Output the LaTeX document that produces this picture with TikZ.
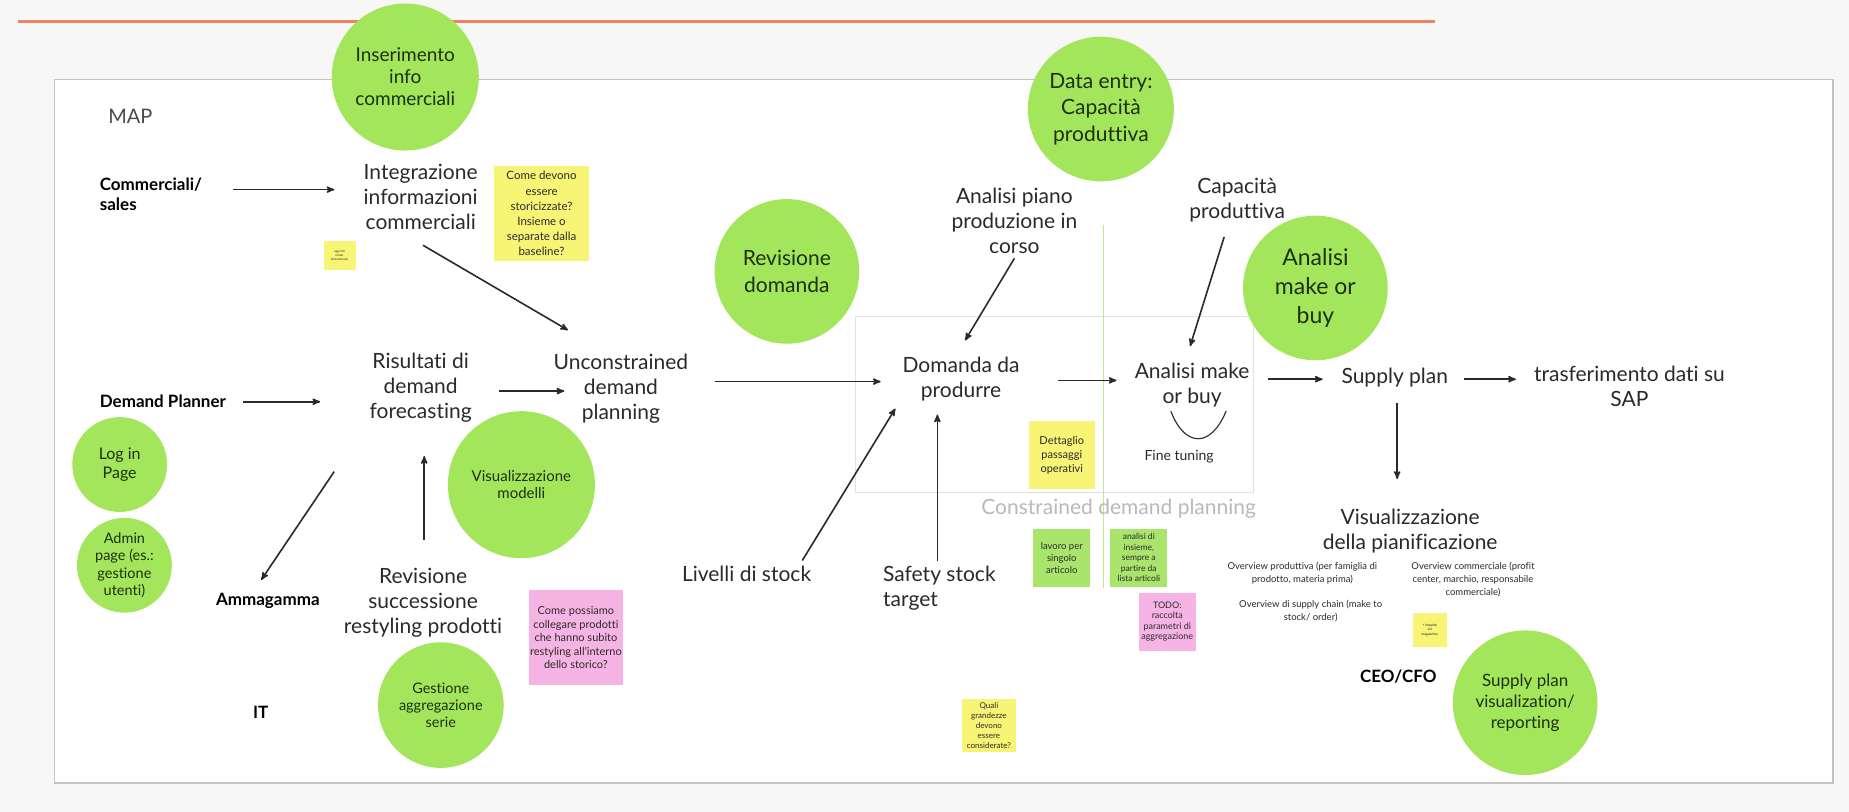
\documentclass[tikz,border=0pt]{standalone}
\usepackage{fontspec}
\setmainfont{Lato}[Ligatures={TeX,NoCommon}]
\usetikzlibrary{arrows,positioning,calc,shapes.geometric}

\definecolor{bgpage}{HTML}{F7F7F7}
\definecolor{rule}{HTML}{F08260}
\definecolor{frame}{HTML}{C4C4C4}
\definecolor{lime}{HTML}{A3E65B}
\definecolor{leaf}{HTML}{1E3010}
\definecolor{ink}{HTML}{2A2A2A}
\definecolor{postyellow}{HTML}{F8F475}
\definecolor{postpink}{HTML}{F6B4E4}
\definecolor{postgreen}{HTML}{A9E56C}
\definecolor{faint}{HTML}{B9B9B9}
\definecolor{split}{HTML}{BEEA8E}
\definecolor{pane}{HTML}{E2E2E2}

\begin{document}
\begin{tikzpicture}[->,>=stealth',shorten >=1pt,auto,x=1.185pt,y=-1.185pt,
                    semithick]
  \tikzstyle{every edge}=[draw=ink,line width=1.6pt]
  \tikzstyle{lbl}=[text=ink,align=center,inner sep=0pt,font=\fontsize{21}{25}\selectfont]
  \tikzstyle{actor}=[text=black,align=left,anchor=west,inner sep=0pt,font=\bfseries\fontsize{17}{19.5}\selectfont]
  \tikzstyle{remark}=[text=ink,align=center,inner sep=0pt,font=\fontsize{9.5}{13}\selectfont]
  \tikzstyle{bubble}=[ellipse,fill=lime,text=leaf,align=center,inner sep=0pt]
  \tikzstyle{postit}=[rectangle,fill=postyellow,text=ink,align=center,inner sep=1pt]

  \useasboundingbox (0,0) rectangle (1560.3,685.2);
  \fill[bgpage] (0,0) rectangle (1560.3,685.2);
  \draw[-,rule,line width=2.4pt] (15,18) -- (1212,18);
  \draw[-,frame,line width=1.8pt,fill=white] (46,67) rectangle (1547,661);
  \draw[-,pane,line width=1pt] (722,267) rectangle (1058,416);
  \draw[-,split,line width=1.2pt] (931,190) -- (931,497);

  \node[postit,minimum width=94.8pt,minimum height=94.8pt,font=\fontsize{11.5}{15}\selectfont]
       (storic) at (457,180) {Come devono\\essere\\storicizzate?\\Insieme o\\separate dalla\\baseline?};
  \node[postit,minimum width=32pt,minimum height=29.6pt,font=\fontsize{3}{4}\selectfont]
       (aggnote) at (286.5,215.5) {agg info\\molto\\destrutturate};
  \node[postit,fill=postpink,minimum width=94.8pt,minimum height=94.8pt,font=\fontsize{11}{13.5}\selectfont]
       (restyl) at (486,538) {Come possiamo\\collegare prodotti\\che hanno subito\\restyling all'interno\\dello storico?};
  \node[postit,minimum width=66.4pt,minimum height=68.7pt,font=\fontsize{11}{14}\selectfont]
       (dettaglio) at (896,384) {Dettaglio\\passaggi\\operativi};
  \node[postit,fill=postgreen,minimum width=56.9pt,minimum height=58pt,font=\fontsize{9.5}{12}\selectfont]
       (lavoro) at (896,470.5) {lavoro per\\singolo\\articolo};
  \node[postit,fill=postgreen,minimum width=56.9pt,minimum height=58pt,font=\fontsize{8.5}{10.6}\selectfont]
       (insieme) at (961,470.5) {analisi di\\insieme,\\sempre a\\partire da\\lista articoli};
  \node[postit,fill=postpink,minimum width=56.9pt,minimum height=58pt,font=\fontsize{9}{10.5}\selectfont]
       (todo) at (985,524.5) {TODO:\\raccolta\\parametri di\\aggregazione};
  \node[postit,minimum width=53.3pt,minimum height=53.3pt,font=\fontsize{8}{10}\selectfont]
       (quali) at (834.5,612.5) {Quali\\grandezze\\devono\\essere\\considerate?};
  \node[postit,minimum width=34.4pt,minimum height=34.4pt,font=\fontsize{3.5}{4.5}\selectfont]
       (impatto) at (1206.5,531.5) {+ impatto\\sul\\magazzino};

  \node[bubble,minimum size=147pt,font=\fontsize{19}{22}\selectfont]
       (inser) at (342,65) {Inserimento\\info\\commerciali};
  \node[bubble,minimum size=144.6pt,font=\fontsize{21}{26.5}\selectfont]
       (dataentry) at (929,92) {Data entry:\\Capacità\\produttiva};
  \node[bubble,minimum size=144.6pt,font=\fontsize{21}{27}\selectfont]
       (revdom) at (664,229) {Revisione\\domanda};
  \node[bubble,minimum size=144.6pt,font=\fontsize{23}{29}\selectfont]
       (mobcirc) at (1110,243) {Analisi\\make or\\buy};
  \node[bubble,minimum size=147pt,font=\fontsize{15}{17.5}\selectfont]
       (vismod) at (440,409) {Visualizzazione\\modelli};
  \node[bubble,minimum size=94.8pt,font=\fontsize{16}{19.5}\selectfont]
       (login) at (101,392) {Log in\\Page};
  \node[bubble,minimum size=94.8pt,font=\fontsize{14.5}{17.2}\selectfont]
       (admin) at (105,477) {Admin\\page (es.:\\gestione\\utenti)};
  \node[bubble,minimum size=125.6pt,font=\fontsize{14.5}{16.8}\selectfont]
       (gestione) at (372,595) {Gestione\\aggregazione\\serie};
  \node[bubble,minimum size=144.6pt,font=\fontsize{17}{20.7}\selectfont]
       (spviz) at (1287,593) {Supply plan\\visualization/\\reporting};

  \node[lbl,text=ink!85,font=\fontsize{20}{24}\selectfont] (map) at (110,98) {MAP};
  \node[actor]              (comm)  at (84,164)   {Commerciali/\\sales};
  \node[actor]              (dp)    at (84,339)   {Demand Planner};
  \node[actor,anchor=center] (amma) at (226,507)  {Ammagamma};
  \node[actor,anchor=center] (it)   at (220,601)  {IT};
  \node[actor,anchor=center] (ceo)  at (1180,571) {CEO/CFO};

  \node[lbl] (integ)   at (355,166)  {Integrazione\\informazioni\\commerciali};
  \node[lbl] (ris)     at (355,327)  {Risultati di\\demand\\forecasting};
  \node[lbl] (uncon)   at (524,328)  {Unconstrained\\demand\\planning};
  \node[lbl] (revsucc) at (357,509)  {Revisione\\successione\\restyling prodotti};
  \node[lbl] (piano)   at (856,186)  {Analisi piano\\produzione in\\corso};
  \node[lbl] (domanda) at (811,320)  {Domanda da\\produrre};
  \node[lbl] (capprod) at (1044,169) {Capacità\\produttiva};
  \node[lbl] (makebuy) at (1006,325) {Analisi make\\or buy};
  \node[lbl] (supply)  at (1177,319) {Supply plan};
  \node[lbl] (sap)     at (1375,326) {trasferimento dati su\\SAP};
  \node[lbl] (visplan) at (1190,448) {Visualizzazione\\della pianificazione};
  \node[lbl] (livelli) at (630,484)  {Livelli di stock};
  \node[lbl,align=left,anchor=west] (safety) at (745,496) {Safety stock\\target};
  \node[lbl,text=faint] (constr) at (944,429) {Constrained demand planning};
  \node[lbl,font=\fontsize{14}{17}\selectfont] (fine) at (995,385) {Fine tuning};

  \node[remark] (ovprod) at (1099,484) {Overview produttiva (per famiglia di\\prodotto, materia prima)};
  \node[remark] (ovcomm) at (1243,489) {Overview commerciale (profit\\center, marchio, responsabile\\commerciale)};
  \node[remark] (ovsc)   at (1106,516) {Overview di supply chain (make to\\stock/ order)};

  \draw[-,ink,line width=1.1pt] (988,347) .. controls (1000,378) and (1022,378) .. (1035,346);

  \path ($(comm.west)+(113,-4)$) edge ($(integ)+(-72,-6)$)
        ($(integ)+(2,41)$)       edge ($(uncon)+(-44,-49)$)
        ($(dp.west)+(121,0)$)    edge ($(ris)+(-84,12)$)
        ($(ris)+(66,3)$)         edge ($(uncon)+(-47,2)$)
        ($(uncon)+(79,-6)$)      edge ($(domanda)+(-67,2)$)
        ($(piano)+(0,32)$)       edge ($(domanda)+(3,-32)$)
        ($(capprod)+(-11,31)$)   edge ($(makebuy)+(-2,-32)$)
        ($(domanda)+(82,1)$)     edge ($(makebuy)+(-63,-4)$)
        ($(makebuy)+(64,-5)$)    edge ($(supply)+(-60,1)$)
        ($(supply)+(58,1)$)      edge ($(sap)+(-95,-6)$)
        ($(supply)+(2,21)$)      edge ($(visplan)+(-11,-43)$)
        ($(livelli)+(47,-11)$)   edge ($(domanda)+(-55,24)$)
        ($(safety.west)+(46,-23)$) edge ($(domanda)+(-20,29)$)
        ($(ris)+(-73,71)$)       edge ($(amma)+(-6,-17)$)
        ($(revsucc)+(1,-53)$)    edge ($(ris)+(3,57)$);
\end{tikzpicture}
\end{document}
